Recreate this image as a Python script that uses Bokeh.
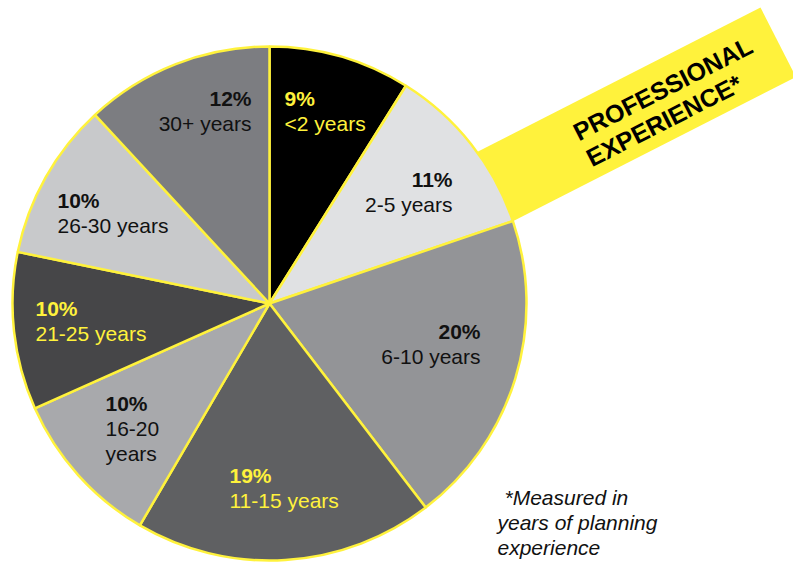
import math
from bokeh.plotting import figure
from bokeh.models import Range1d
from bokeh.embed import file_html
from bokeh.resources import INLINE
from bokeh.core.properties import value

# ---- data ----
categories = ["<2 years", "2-5 years", "6-10 years", "11-15 years",
              "16-20 years", "21-25 years", "26-30 years", "30+ years"]
percents = [9, 11, 20, 19, 10, 10, 10, 12]
pct_labels = ["9%", "11%", "20%", "19%", "10%", "10%", "10%", "12%"]
name_lines = [["<2 years"], ["2-5 years"], ["6-10 years"], ["11-15 years"],
              ["16-20", "years"], ["21-25 years"], ["26-30 years"], ["30+ years"]]
slice_colors = ["#000000", "#e0e1e3", "#939497", "#5f6062",
                "#a8a9ac", "#464648", "#c8c9cb", "#7c7d81"]
text_colors = ["#fff23c", "#111111", "#111111", "#fff23c",
               "#111111", "#fff23c", "#111111", "#111111"]
title_lines = ["PROFESSIONAL", "EXPERIENCE*"]
note_lines = ["*Measured in", "years of planning", "experience"]

# ---- layout (reference pixel coords; data y = -pixel y) ----
label_pos = [(284, 106, "left"), (452, 187, "right"), (480, 339, "right"),
             (229, 483, "left"), (105, 411, "left"), (35, 316, "left"),
             (57, 208, "left"), (251, 106, "right")]
YELLOW = "#fff23c"
FONT = "Liberation Sans"
cx, cy, r = 269, 303, 257
W_PX, H_PX = 793, 563
DY = -8  # text baseline correction

p = figure(width=W_PX, height=H_PX, output_backend="svg", toolbar_location=None,
           x_range=Range1d(0, W_PX), y_range=Range1d(-H_PX, 0),
           x_axis_type=None, y_axis_type=None, min_border=0)
p.grid.visible = False
p.outline_line_color = None
p.background_fill_color = "white"
p.border_fill_color = "white"

# banner (rotated rectangle behind pie)
ang = 27.0
a = math.radians(ang)
ux, uy = math.cos(a), -math.sin(a)     # along banner, pixel coords (y down)
nx, ny = math.sin(a), math.cos(a)      # normal, downward
trx, try_ = 760, 7
L, W = 360, 78
bcx = trx - ux * L / 2 + nx * W / 2
bcy = try_ - uy * L / 2 + ny * W / 2
p.rect(x=[bcx], y=[-bcy], width=L, height=W, angle=ang, angle_units="deg",
       fill_color=YELLOW, line_color=None)

# pie
total = float(sum(percents))
starts, ends = [], []
cum = 0.0
for v in percents:
    starts.append(math.pi / 2 - 2 * math.pi * cum / total)
    cum += v
    ends.append(math.pi / 2 - 2 * math.pi * cum / total)
p.wedge(x=[cx] * len(percents), y=[-cy] * len(percents), radius=r,
        start_angle=starts, end_angle=ends, direction="clock",
        fill_color=slice_colors, line_color=YELLOW, line_width=2.5)

# slice labels
LH = 25
for i in range(len(percents)):
    x, yb, al = label_pos[i]
    yb = yb + DY
    p.text(x=[x], y=[-yb], text=[pct_labels[i]], text_font=value(FONT),
           text_font_size="21px", text_font_style="bold", text_align=al,
           text_baseline="alphabetic", text_color=text_colors[i])
    for j, ln in enumerate(name_lines[i]):
        p.text(x=[x], y=[-(yb + LH * (j + 1))], text=[ln], text_font=value(FONT),
               text_font_size="21px", text_align=al,
               text_baseline="alphabetic", text_color=text_colors[i])

# banner title
tx, ty = 578 + nx * DY, 140 + ny * DY
for j, ln in enumerate(title_lines):
    ox = tx + nx * 29 * j
    oy = ty + ny * 29 * j
    p.text(x=[ox], y=[-oy], text=[ln], text_font=value(FONT), text_font_size="25px",
           text_font_style="bold", angle=ang, angle_units="deg",
           text_align="left", text_baseline="alphabetic", text_color="#000000")

# footnote
note_pos = [(504, 505), (497, 530), (497, 555)]
for (x, yb), ln in zip(note_pos, note_lines):
    p.text(x=[x], y=[-(yb + DY)], text=[ln], text_font=value(FONT), text_font_size="21px",
           text_font_style="italic", text_align="left", text_baseline="alphabetic",
           text_color="#111111")

open("out.html", "w").write(file_html(p, INLINE))
